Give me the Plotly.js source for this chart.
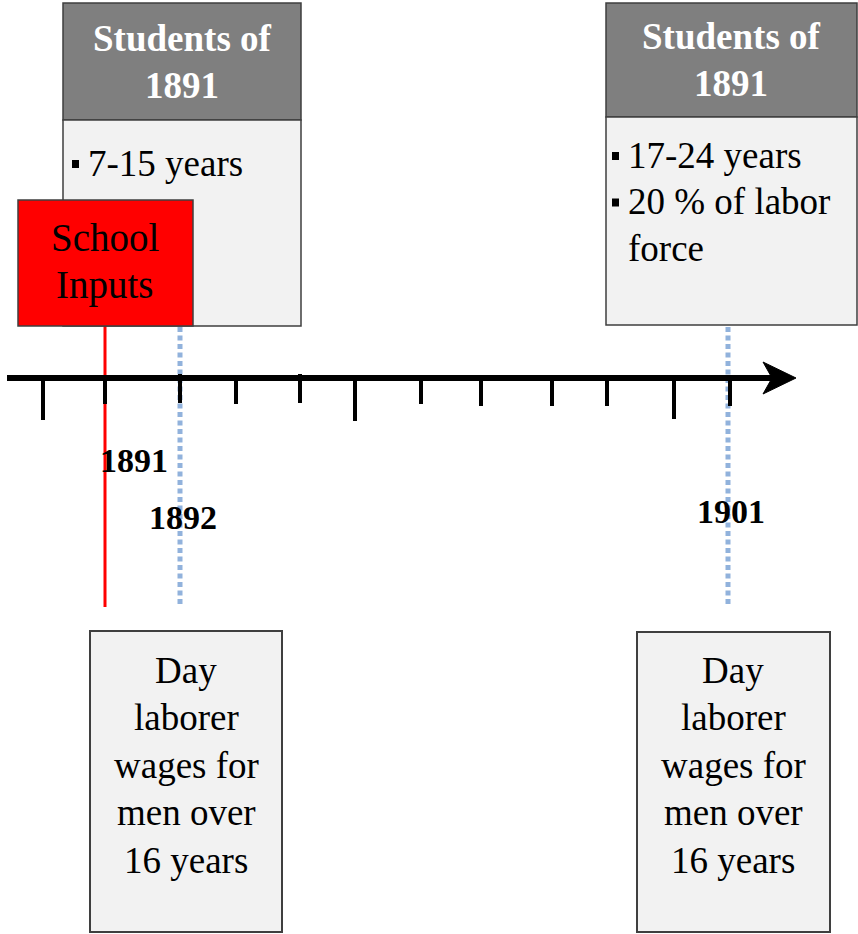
<!DOCTYPE html>
<html><head><meta charset="utf-8">
<script src="https://cdn.plot.ly/plotly-3.0.1.min.js"></script>
<style>html,body{margin:0;padding:0;background:#fff}#chart{width:858px;height:934px}</style>
</head><body><div id="chart"></div>
<script>
// ---- content ----
const markedYears = ['1891', '1892', '1901'];
const cohortHeader = ['Students of', '1891'];
const cohortBefore = ['7-15 years'];
const cohortAfter = ['17-24 years', '20 % of labor', 'force'];
const cohortAfterBullet = [true, true, false];
const outcomeLines = ['Day', 'laborer', 'wages for', 'men over', '16 years'];
const treatmentLines = ['School', 'Inputs'];

// ---- geometry (axis units = px of the 858x934 canvas) ----
const W = 858, H = 934;
const axisY = 378;
const tickX = [43, 105, 180, 236, 300, 355, 421, 481, 552, 607, 674, 730];
const tickTop = [379, 379, 374, 379, 374, 379, 379, 379, 379, 379, 379, 379];
const tickBottom = [420, 404, 403, 404, 403, 421, 404, 406, 406, 406, 419, 406];
const yearLabelPos = [[134, 460], [183, 517], [731, 511]];
const serif = 'Liberation Serif, Times New Roman, serif';
const FS = 37;
const border = '#3f3f3f';

const shapes = [];
const ann = [];
function rect(x0, y0, x1, y1, fill, lw, lc) {
  shapes.push({type: 'rect', xref: 'x', yref: 'y', x0, y0, x1, y1, fillcolor: fill, line: {color: lc || border, width: lw === undefined ? 1.5 : lw}});
}
function line(x0, y0, x1, y1, color, width, dash) {
  shapes.push({type: 'line', xref: 'x', yref: 'y', x0, y0, x1, y1, line: {color, width, dash: dash || 'solid'}});
}
function text(t, x, y, opt) {
  opt = opt || {};
  ann.push({text: t, x, y, xref: 'x', yref: 'y', showarrow: false,
    xanchor: opt.xa || 'center', yanchor: 'middle',
    font: {family: serif, size: opt.size || FS, color: opt.color || '#000', weight: opt.bold ? 'bold' : 'normal'}});
}
function bullet(x, y) { rect(x, y - 4, x + 7, y + 4, '#000', 0, '#000'); }

// guide lines (under everything)
line(180, 327, 180, 607, '#91b2dc', 5, '5px,3.5px');
line(728, 327, 728, 607, '#91b2dc', 5, '5px,3.5px');
line(105, 326, 105, 607, '#ff0000', 3);

// cohort boxes
rect(63, 3, 301, 120, '#7f7f7f');
rect(63, 120, 301, 326, '#f2f2f2');
rect(606, 3, 857, 117, '#7f7f7f');
rect(606, 117, 857, 325, '#f2f2f2');
// treatment box
rect(18, 200, 193, 326, '#ff0000');
// outcome boxes
rect(90, 631, 282, 932, '#f2f2f2', 2);
rect(637, 632, 830, 932, '#f2f2f2', 2);

// timeline axis
line(7, axisY, 775, axisY, '#000', 6);
shapes.push({type: 'path', xref: 'x', yref: 'y',
  path: `M 796 ${axisY} L 763 ${axisY - 16} L 772 ${axisY} L 763 ${axisY + 16} Z`,
  fillcolor: '#000', line: {color: '#000', width: 1}});
tickX.forEach((x, i) => line(x, tickTop[i], x, tickBottom[i], '#000', 4));

// texts
cohortHeader.forEach((t, i) => {
  text(t, 182, 38 + i * 47, {color: '#fff', bold: true});
  text(t, 731, 36 + i * 47, {color: '#fff', bold: true});
});
cohortBefore.forEach((t, i) => {
  bullet(72, 164 + i * 47);
  text(t, 86, 163 + i * 47, {xa: 'left'});
});
cohortAfter.forEach((t, i) => {
  if (cohortAfterBullet[i]) bullet(612, 156 + i * 46.5);
  text(t, 626, 155 + i * 46.5, {xa: 'left'});
});
treatmentLines.forEach((t, i) => text(t, 105, 237 + i * 48, {size: 39}));
outcomeLines.forEach((t, i) => {
  text(t, 186, 670 + i * 47.5);
  text(t, 733, 670 + i * 47.5);
});
markedYears.forEach((t, i) => text(t, yearLabelPos[i][0], yearLabelPos[i][1], {bold: true, size: 34}));

const layout = {
  width: W, height: H,
  margin: {l: 0, r: 0, t: 0, b: 0},
  paper_bgcolor: '#fff', plot_bgcolor: '#fff',
  xaxis: {range: [0, W], visible: false, fixedrange: true},
  yaxis: {range: [H, 0], visible: false, fixedrange: true},
  showlegend: false,
  shapes, annotations: ann
};
Plotly.newPlot('chart', [{x: [], y: [], type: 'scatter'}], layout, {displayModeBar: false, staticPlot: true});
</script></body></html>
